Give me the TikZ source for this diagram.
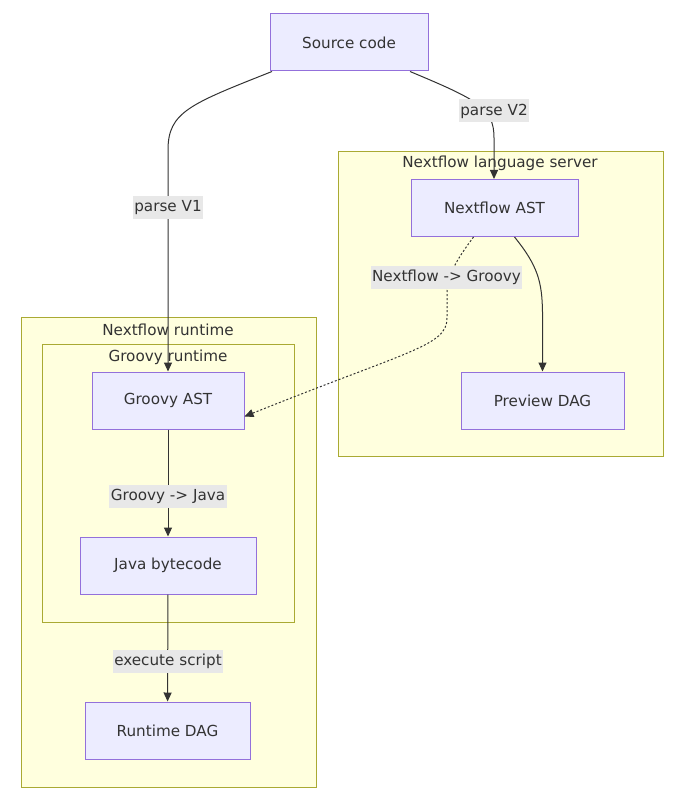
\documentclass[tikz,border=0pt]{standalone}
\usepackage{fontspec}
\setmainfont{DejaVu Sans}
\usepackage{tikz}
\usetikzlibrary{arrows.meta,positioning}
\definecolor{boxfill}{HTML}{ECECFF}
\definecolor{boxline}{HTML}{9370DB}
\definecolor{clusterfill}{HTML}{FFFFDE}
\definecolor{clusterline}{HTML}{AAAA33}
\definecolor{edgeline}{HTML}{333333}
\definecolor{labelbg}{HTML}{E8E8E8}
\tikzset{font=\fontsize{15.2}{18}\selectfont, text=edgeline}
\tikzset{block/.style={draw=boxline, fill=boxfill, line width=1pt, minimum height=57pt, inner sep=0pt}}
\tikzset{cluster/.style={draw=clusterline, fill=clusterfill, line width=1pt}}
\tikzset{edge/.style={draw=edgeline, line width=1pt, -{Triangle[length=9pt,width=8pt]}}}
\tikzset{elabel/.style={fill=labelbg, inner sep=1.5pt, minimum height=23pt}}

\begin{document}
\begin{tikzpicture}[x=1pt, y=-1pt]
  \useasboundingbox (0,0) rectangle (688,799);

  % subgraphs
  \draw[cluster] (338,152) rectangle (663,456);
  \node (lsname) at (500,163) {Nextflow language server};
  \draw[cluster] (21,317) rectangle (316,787);
  \node (rtname) at (168,330) {Nextflow runtime};
  \draw[cluster] (42,344) rectangle (294,622);
  \node (grname) at (168,357) {Groovy runtime};

  % nodes
  \node[block, minimum width=158pt] (src) at (349,42.5) {Source code};
  \node[block, minimum width=167pt] (nfast) at (494.5,208) {Nextflow AST};
  \node[block, minimum width=163pt] (pdag) at (542.5,400.5) {Preview DAG};
  \node[block, minimum width=152pt] (gast) at (168,400.5) {Groovy AST};
  \node[block, minimum width=176pt] (jbc) at (168,565.5) {Java bytecode};
  \node[block, minimum width=165pt] (rdag) at (167.5,730.5) {Runtime DAG};

  % connectors
  \draw[edge] ([xshift=-77pt]src.south) .. controls (190,104) and (168,112) .. (168,150) -- (gast.north);
  \draw[edge] ([xshift=61pt]src.south) .. controls (478,100) and (494,108) .. (494,138) -- ([xshift=-0.5pt]nfast.north);
  \draw[edge] ([xshift=20pt]nfast.south) .. controls (538,266) and (542,282) .. (542.5,312) -- (pdag.north);
  \draw[edge, dash pattern=on 2pt off 2pt] ([xshift=-21pt]nfast.south) .. controls (452,266) and (447,278) .. (447,296) -- (447,318)
    .. controls (447,346) and (410,350) .. ([yshift=-16pt]gast.east);
  \draw[edge] (gast) -- (jbc);
  \draw[edge] (jbc) -- (rdag);

  % edge labels
  \node[elabel] (v1) at (168,208) {parse V1};
  \node[elabel] (v2) at (494,111) {parse V2};
  \node[elabel] (nfgr) at (446.5,277.5) {Nextflow -> Groovy};
  \node[elabel] (grjv) at (168,496) {Groovy -> Java};
  \node[elabel] (exec) at (168,661) {execute script};
\end{tikzpicture}
\end{document}
